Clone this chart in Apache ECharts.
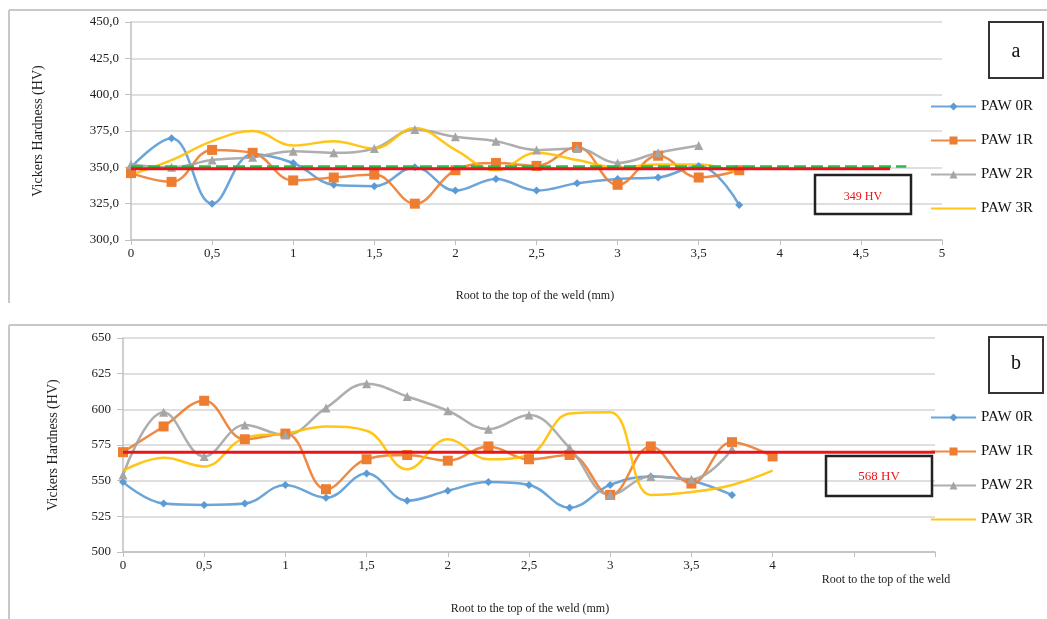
<!DOCTYPE html>
<html><head><meta charset="utf-8">
<script src="https://cdn.jsdelivr.net/npm/echarts@6/dist/echarts.min.js"></script>
<style>html,body{margin:0;padding:0;background:#fff}#c{width:1047px;height:619px}</style>
</head><body><div id="c"></div>
<script>
var xA = [0,0.25,0.5,0.75,1,1.25,1.5,1.75,2,2.25,2.5,2.75,3,3.25,3.5,3.75];
var a0R = [350,370,325,359,353,338,337,350,334,342,334,339,342,343,351,324];
var a1R = [346,340,362,360,341,343,345,325,348,353,351,364,338,358,343,348];
var a2R = [352,350,355,357,361,360,363,376,371,368,362,363,353,360,365];
var a3R = [345,355,368,375,365,368,363,377,362,348,360,355,350,352,352,346];
var xB = [0,0.25,0.5,0.75,1,1.25,1.5,1.75,2,2.25,2.5,2.75,3,3.25,3.5,3.75,4];
var b0R = [549,534,533,534,547,538,555,536,543,549,547,531,547,553,550,540];
var b1R = [570,588,606,579,583,544,565,568,564,574,565,568,540,574,548,577,567];
var b2R = [554,598,567,589,582,601,618,609,599,586,596,573,540,553,551,572];
var b3R = [557,566,560,580,583,588,585,558,579,565,568,597,598,540,542,547,557];
var refA = 349, refB = 570;
var names = ['PAW 0R','PAW 1R','PAW 2R','PAW 3R'];
var colors = ['#5b9bd5','#ed7d31','#a5a5a5','#ffc000'];
var symbols = ['diamond','rect','triangle','circle'];
var symSizes = [8,10,9,0];

function pairs(xs, ys){ return ys.map(function(v,i){ return [xs[i], v]; }); }
var F = 'Liberation Serif, Times New Roman, serif';
var commaFmt1 = function(v){ return v.toFixed(1).replace('.',','); };
var commaFmt = function(v){ return String(v).replace('.',','); };

var series = [];
var dataA = [a0R,a1R,a2R,a3R], dataB = [b0R,b1R,b2R,b3R];
[0,1].forEach(function(g){
  var ds = g===0 ? dataA : dataB; var xs = g===0 ? xA : xB;
  ds.forEach(function(d,i){
    var noSym = i === 3;
    series.push({
      name: names[i], type:'line', xAxisIndex:g, yAxisIndex:g, smooth:0.4,
      data: pairs(xs,d), symbol: symbols[i], symbolSize: symSizes[i],
      showSymbol: !noSym,
      itemStyle:{color:colors[i], opacity: noSym ? 0 : 1}, lineStyle:{color:colors[i], width:2.5, opacity:0.9},
      z: 3
    });
  });
});
series.push({type:'line', xAxisIndex:0, yAxisIndex:0, data:[[0,350.6],[4.78,350.6]], symbol:'none',
  lineStyle:{color:'#2fb84a', width:2.5, type:[12,5]}, z:4, silent:true});
series.push({type:'line', xAxisIndex:0, yAxisIndex:0, data:[[0,refA],[4.68,refA]], symbol:'none',
  lineStyle:{color:'#e8161b', width:3}, z:5, silent:true});
series.push({type:'line', xAxisIndex:1, yAxisIndex:1, data:[[0,refB],[5,refB]], symbol:'none',
  lineStyle:{color:'#e8161b', width:3}, z:5, silent:true});

function xAxis(g, showAll){
  return {type:'value', gridIndex:g, min:0, max:5, interval:0.5,
    axisLine:{onZero:false, lineStyle:{color:'#bfbfbf', width:1.5}},
    axisTick:{show:true, length:5, lineStyle:{color:'#bfbfbf'}},
    splitLine:{show:false},
    axisLabel:{fontFamily:F, fontSize:13, color:'#222', margin:7,
      formatter:function(v){ if(!showAll && v>4) return ''; return commaFmt(v); }}};
}
function yAxis(g, min, max, fmt, nameGap){
  return {type:'value', gridIndex:g, min:min, max:max, interval:25,
    name:'Vickers Hardness (HV)', nameLocation:'middle', nameGap:nameGap,
    nameTextStyle:{fontFamily:F, fontSize:14, color:'#222'},
    axisLine:{show:true, lineStyle:{color:'#bfbfbf', width:1.5}},
    axisTick:{show:true, length:6, lineStyle:{color:'#bfbfbf'}},
    splitLine:{show:true, lineStyle:{color:'#d4d4d4', width:1.5}},
    axisLabel:{fontFamily:F, fontSize:13, color:'#222', margin:12, formatter:fmt}};
}
function legend(top){
  return {orient:'vertical', left:925, top:top, itemGap:19, itemWidth:45, itemHeight:10,
    data:names, textStyle:{fontFamily:F, fontSize:15, color:'#111'}, selectedMode:false};
}

var option = {
  animation:false,
  grid:[{left:131, top:22, width:811, height:218},{left:123, top:338, width:812, height:214}],
  xAxis:[xAxis(0,true), xAxis(1,false)],
  yAxis:[yAxis(0,300,450,commaFmt1,86), yAxis(1,500,650,function(v){return String(v);},63)],
  legend:[legend(94), legend(405)],
  series: series,
  graphic:[
    {type:'line', shape:{x1:9,y1:10,x2:1047,y2:10}, style:{stroke:'#c8c8c8', lineWidth:2}},
    {type:'line', shape:{x1:9,y1:10,x2:9,y2:303}, style:{stroke:'#c8c8c8', lineWidth:2}},
    {type:'line', shape:{x1:9,y1:325,x2:1047,y2:325}, style:{stroke:'#c8c8c8', lineWidth:2}},
    {type:'line', shape:{x1:9,y1:325,x2:9,y2:619}, style:{stroke:'#c8c8c8', lineWidth:2}},
    {type:'text', style:{x:535, y:296, text:'Root to the top of the weld (mm)', font:'12px '+F, fill:'#222', textAlign:'center', textVerticalAlign:'middle'}},
    {type:'text', style:{x:530, y:609, text:'Root to the top of the weld (mm)', font:'12px '+F, fill:'#222', textAlign:'center', textVerticalAlign:'middle'}},
    {type:'text', style:{x:886, y:580, text:'Root to the top of the weld', font:'12px '+F, fill:'#222', textAlign:'center', textVerticalAlign:'middle'}},
    {type:'rect', shape:{x:989, y:22, width:54, height:56}, style:{fill:'#fff', stroke:'#333', lineWidth:2}},
    {type:'text', style:{x:1016, y:52, text:'a', font:'20px '+F, fill:'#111', textAlign:'center', textVerticalAlign:'middle'}},
    {type:'rect', shape:{x:989, y:337, width:54, height:56}, style:{fill:'#fff', stroke:'#333', lineWidth:2}},
    {type:'text', style:{x:1016, y:364, text:'b', font:'20px '+F, fill:'#111', textAlign:'center', textVerticalAlign:'middle'}},
    {type:'rect', shape:{x:815, y:175, width:96, height:39}, style:{fill:'rgba(255,255,255,0)', stroke:'#222', lineWidth:2.5}, z:10},
    {type:'text', style:{x:863, y:197, text:'349 HV', font:'12px '+F, fill:'#e8161b', textAlign:'center', textVerticalAlign:'middle'}, z:11},
    {type:'rect', shape:{x:826, y:456, width:106, height:40}, style:{fill:'rgba(255,255,255,0)', stroke:'#222', lineWidth:2.5}, z:10},
    {type:'text', style:{x:879, y:477, text:'568 HV', font:'13px '+F, fill:'#e8161b', textAlign:'center', textVerticalAlign:'middle'}, z:11}
  ]
};
var chart = echarts.init(document.getElementById('c'));
chart.setOption(option);
</script></body></html>
